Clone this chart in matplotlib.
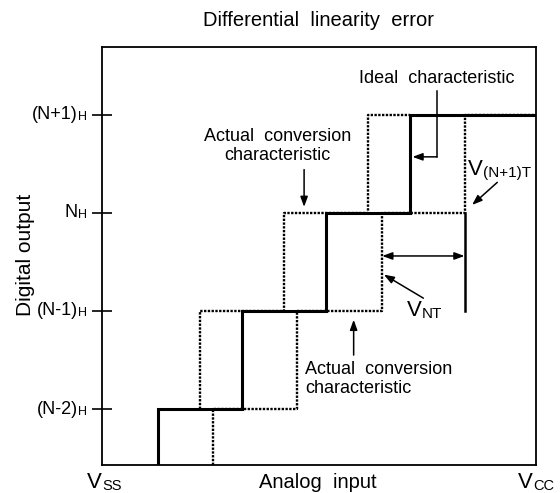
import matplotlib
matplotlib.use("Agg")
import matplotlib.pyplot as plt

plt.rcParams['font.family'] = ['Liberation Sans', 'DejaVu Sans']

# output codes (N-2)H .. (N+1)H
levels = [1, 2, 3, 4]
level_main = ['(N-2)', '(N-1)', 'N', '(N+1)']
level_sub = 'H'

# transition points along the analog input
ideal_edges = [1.0, 2.0, 3.0, 4.0]
actual_right = [1.65, 2.65, 3.67, 4.65]
actual_left = [1.5, 2.5, 3.5]
actual_left_levels = [2, 3, 4]

xmin, xmax = 0.333, 5.5
ymin, ymax = 0.43, 4.69


def stair(edges, lvls, x_end, y_start):
    xs, ys = [edges[0]], [y_start]
    for i, (e, lv) in enumerate(zip(edges, lvls)):
        nxt = edges[i + 1] if i + 1 < len(edges) else x_end
        xs += [e, nxt]
        ys += [lv, lv]
    return xs, ys


def sub_text(ax, x, y, main, sub, size, subsize, transform, ha='left'):
    t = ax.text(x, y, main, fontsize=size, transform=transform, ha=ha, va='center',
                clip_on=False)
    ax.annotate(sub, xy=(1, 0), xycoords=t, ha='left', va='bottom', fontsize=subsize,
                annotation_clip=False)
    return t


fig = plt.figure(figsize=(5.6, 4.93), dpi=100)
ax = fig.add_axes([0.182, 0.0568, 0.775, 0.848])

dot = (0, (1, 0.6))
# actual conversion characteristics (dotted)
x, y = stair(actual_right, levels, xmax, ymin)
ax.plot(x, y, color='black', lw=1.7, linestyle=dot)
x, y = stair(actual_left, actual_left_levels, ideal_edges[-1], levels[0])
ax.plot(x, y, color='black', lw=1.7, linestyle=dot)

# ideal characteristic (solid)
x, y = stair(ideal_edges, levels, xmax, ymin)
ax.plot(x, y, color='black', lw=2.2, solid_joinstyle='miter')

# V(N+1)T marker line
ax.plot([actual_right[3], actual_right[3]], [levels[1], levels[2]], color='black', lw=1.8)

ax.set_xlim(xmin, xmax)
ax.set_ylim(ymin, ymax)
ax.set_xticks([])
ax.set_yticks(levels)
ax.set_yticklabels([''] * len(levels))
ax.tick_params(axis='y', direction='inout', length=14, width=1.2)
for s in ax.spines.values():
    s.set_linewidth(1.3)

ytr = ax.get_yaxis_transform()
for lv, m in zip(levels, level_main):
    sub_text(ax, -0.056, lv, m, level_sub, 13, 9, ytr, ha='right')

arr = dict(arrowstyle='-|>,head_length=0.6,head_width=0.22', color='black', lw=1.1,
           shrinkA=0, shrinkB=0)

# ideal characteristic label + leader
ax.text(4.32, 4.37, 'Ideal  characteristic', ha='center', va='center', fontsize=13)
ax.plot([4.32, 4.32], [4.24, 3.57], color='black', lw=1.1)
ax.annotate('', xy=(4.03, 3.57), xytext=(4.32, 3.57), arrowprops=arr)

# upper actual label
ax.text(2.42, 3.68, 'Actual  conversion\ncharacteristic', ha='center', va='center',
        fontsize=13, linespacing=1.15)
ax.annotate('', xy=(2.74, 3.06), xytext=(2.74, 3.44), arrowprops=arr)

# lower actual label
ax.text(2.75, 1.31, 'Actual  conversion\ncharacteristic', ha='left', va='center',
        fontsize=13, linespacing=1.15)
ax.annotate('', xy=(3.33, 1.91), xytext=(3.33, 1.55), arrowprops=arr)

# VNT
sub_text(ax, 3.96, 2.0, 'V', 'NT', 16, 11, ax.transData)
ax.annotate('', xy=(3.69, 2.37), xytext=(4.16, 2.13), arrowprops=arr)
ax.annotate('', xy=(actual_right[2], 2.56), xytext=(actual_right[3], 2.56),
            arrowprops=dict(arrowstyle='<|-|>,head_length=0.6,head_width=0.22',
                            color='black', lw=1.1, shrinkA=0, shrinkB=0))

# V(N+1)T
sub_text(ax, 4.69, 3.44, 'V', '(N+1)T', 16, 11, ax.transData)
ax.annotate('', xy=(4.74, 3.08), xytext=(5.04, 3.31), arrowprops=arr)

fig.text(0.568, 0.959, 'Differential  linearity  error', ha='center', va='center', fontsize=14.5)
fig.text(0.045, 0.483, 'Digital output', rotation=90, ha='center', va='center', fontsize=15)
fig.text(318 / 560, 1 - 482 / 493, 'Analog  input', ha='center', va='center', fontsize=14.5)
sub_text(ax, 87 / 560, 1 - 482 / 493, 'V', 'SS', 16, 10.5, fig.transFigure)
sub_text(ax, 518 / 560, 1 - 482 / 493, 'V', 'CC', 16, 10.5, fig.transFigure)

fig.savefig('out.png', dpi=100)
